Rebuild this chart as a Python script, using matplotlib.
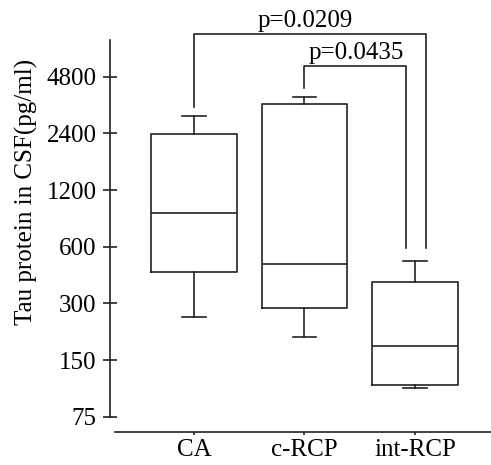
import matplotlib
matplotlib.use("Agg")
import matplotlib.pyplot as plt
from matplotlib.ticker import FixedLocator, NullLocator

# ---- data ----
categories = ["CA", "c-RCP", "int-RCP"]
whisker_low = [255, 200, 106]
q1 = [440, 283, 110]
median = [903, 483, 179]
q3 = [2374, 3437, 391]
whisker_high = [2979, 3757, 505]
yticks = [75, 150, 300, 600, 1200, 2400, 4800]
ylabel = "Tau protein in CSF(pg/ml)"
p_texts = ["p=0.0209", "p=0.0435"]

plt.rcParams['font.family'] = ['Liberation Serif', 'DejaVu Serif']
FS = 18
LC = '#222222'
LW = 1.2

fig = plt.figure(figsize=(4.91, 4.65), dpi=100)
ax = fig.add_axes([110/491, (465-431.7)/465, 380/491, 411.7/465])

stats = []
for i, c in enumerate(categories):
    stats.append(dict(label=c, whislo=whisker_low[i], q1=q1[i], med=median[i],
                      q3=q3[i], whishi=whisker_high[i], fliers=[]))
pos = [1, 2, 3]
ax.bxp(stats, positions=pos, widths=0.77, capwidths=0.21, showfliers=False,
       boxprops=dict(color=LC, linewidth=LW),
       whiskerprops=dict(color=LC, linewidth=LW),
       capprops=dict(color=LC, linewidth=LW),
       medianprops=dict(color=LC, linewidth=LW))

ax.set_yscale('log', base=2)
ax.set_ylim(62.45, 9600)
ax.set_xlim(0.24, 3.679)
ax.yaxis.set_major_locator(FixedLocator(yticks))
ax.yaxis.set_minor_locator(NullLocator())
ax.set_yticklabels([str(t) for t in yticks])
ax.set_xticks(pos)
ax.set_xticklabels(categories)

for s in ['top', 'right']:
    ax.spines[s].set_visible(False)
ax.spines['left'].set_bounds(75, 7500)
ax.spines['bottom'].set_bounds(0.285, 3.679)
for s in ['left', 'bottom']:
    ax.spines[s].set_linewidth(LW)
    ax.spines[s].set_color(LC)

ax.tick_params(axis='y', direction='inout', length=10.5, width=LW, color=LC,
               labelsize=FS, pad=4.3)
ax.tick_params(axis='x', direction='out', length=2.5, width=LW, color=LC,
               labelsize=FS, pad=3)
ax.set_ylabel(ylabel, fontsize=FS)
ax.yaxis.set_label_coords(-0.19, 0.583)

# significance brackets
def bracket(x1, x2, y1, y2, ytop, text, tx, ty):
    ax.plot([x1, x1, x2, x2], [y1, ytop, ytop, y2], color=LC, lw=LW,
            clip_on=False)
    ax.text(tx, ty, text, ha='center', va='baseline', fontsize=FS,
            clip_on=False)

bracket(1.0, 3.104, whisker_high[0] * 1.115, whisker_high[2] * 1.175, 8061,
        p_texts[0], 2.005, 8761)
bracket(1.995, 2.919, whisker_high[1] * 1.117, whisker_high[2] * 1.175, 5488,
        p_texts[1], 2.466, 5958)

fig.savefig("out.png", dpi=100)
